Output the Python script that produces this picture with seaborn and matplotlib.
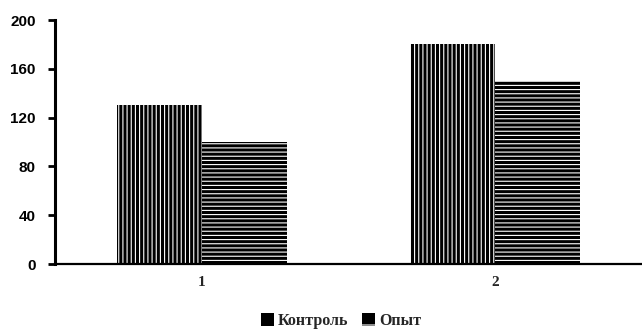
import matplotlib
matplotlib.use("Agg")
import matplotlib.pyplot as plt
import seaborn as sns
import pandas as pd
from matplotlib.patches import Patch

# Data
categories = ["1", "2"]
series_names = ["Контроль", "Опыт"]
control_values = [130, 180]
experiment_values = [100, 150]
y_ticks = [0, 40, 80, 120, 160, 200]

df = pd.DataFrame({
    "group": categories * 2,
    "series": [series_names[0]] * len(categories) + [series_names[1]] * len(categories),
    "value": control_values + experiment_values,
})

sns.set_style("white")
plt.rcParams["hatch.linewidth"] = 0.8

fig = plt.figure(figsize=(6.42, 3.30), dpi=100)
ax = fig.add_axes([55 / 642, 66 / 330, 1 - 55 / 642, 244 / 330])

sns.barplot(data=df, x="group", y="value", hue="series", order=categories,
            hue_order=series_names, palette=["black", "black"], width=0.58,
            saturation=1, legend=False, ax=ax)

hatches = ["||||", "||||".replace("|", "-")]
for container, h in zip(ax.containers, hatches):
    for bar in container:
        bar.set_facecolor("black")
        bar.set_edgecolor("white")
        bar.set_hatch(h)
        bar.set_linewidth(0)

ax.set_xlim(-0.5, 1.5)
ax.set_ylim(0, 200)
ax.set_yticks(y_ticks)
ax.set_xlabel("")
ax.set_ylabel("")

for side in ["top", "right"]:
    ax.spines[side].set_visible(False)
ax.spines["left"].set_linewidth(2.2)
ax.spines["bottom"].set_linewidth(1.6)
ax.spines["left"].set_color("black")
ax.spines["bottom"].set_color("black")

ax.tick_params(axis="y", direction="out", length=5, width=2, colors="black",
               pad=9, left=True)
ax.tick_params(axis="x", length=0, pad=9)
for lab in ax.get_yticklabels():
    lab.set_fontfamily("Liberation Sans")
    lab.set_fontweight("bold")
    lab.set_fontsize(11)
for lab in ax.get_xticklabels():
    lab.set_fontfamily("Liberation Serif")
    lab.set_fontweight("bold")
    lab.set_fontsize(11)

handles = [Patch(facecolor="black", edgecolor="white", hatch=h[:1], linewidth=0)
           for h in hatches]
fig.legend(handles, series_names, loc="center", bbox_to_anchor=(341 / 642, 1 - 321 / 330),
           ncol=2, frameon=False, handlelength=0.8, handleheight=0.9,
           handletextpad=0.25, columnspacing=0.9,
           prop={"family": "Liberation Serif", "weight": "bold", "size": 11.5})

fig.savefig("out.png", dpi=100)
